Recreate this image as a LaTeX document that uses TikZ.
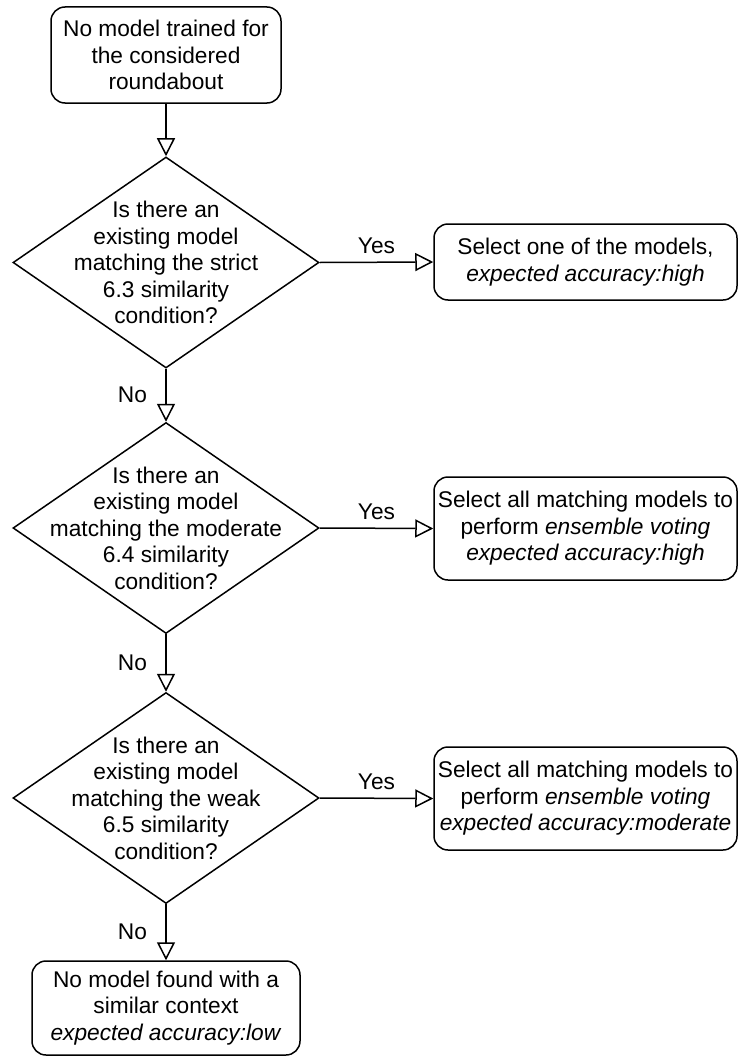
\documentclass[tikz,border=0pt]{standalone}
\usepackage{fontspec}
\setmainfont{Liberation Sans}
\usetikzlibrary{arrows.meta,shapes.geometric}
\definecolor{inkline}{RGB}{0,0,0}

\begin{document}
\begin{tikzpicture}[x=1pt,y=-1pt,
  font=\fontsize{22.7}{26.5}\selectfont,
  box/.style={draw=inkline,line width=1.5pt,rounded corners=14pt,align=center,inner sep=0pt},
  query/.style={draw=inkline,line width=1.5pt,diamond,shape aspect=1.45,align=center,
    inner sep=-30pt,minimum width=306pt,minimum height=211pt},
  flow/.style={draw=inkline,line width=1.5pt,-{Triangle[open,length=18pt,width=18pt]}}]
\useasboundingbox (0,0) rectangle (739,1057);
% left column
\node[box,minimum width=230pt,minimum height=96pt] (start) at (166,55)
  {No model trained for\\the considered\\roundabout};
\node[query] (q1) at (166,262.5)
  {Is there an\\existing model\\matching the strict\\6.3 similarity\\condition?};
\node[query] (q2) at (166,528)
  {Is there an\\existing model\\matching the moderate\\6.4 similarity\\condition?};
\node[query] (q3) at (166,798)
  {Is there an\\existing model\\matching the weak\\6.5 similarity\\condition?};
\node[box,minimum width=268pt,minimum height=94pt] (none) at (166,1008)
  {No model found with a\\similar context\\\textit{expected accuracy:low}};
% right column
\node[box,minimum width=303pt,minimum height=76pt] (r1) at (585.5,262)
  {Select one of the models,\\\textit{expected accuracy:high}};
\node[box,minimum width=303pt,minimum height=103pt] (r2) at (585.5,528.5)
  {Select all matching models to\\perform \textit{ensemble voting}\\\textit{expected accuracy:high}};
\node[box,minimum width=303pt,minimum height=103pt] (r3) at (585.5,798.5)
  {Select all matching models to\\perform \textit{ensemble voting}\\\textit{expected accuracy:moderate}};
% connectors
\draw[flow] (start) -- (q1);
\foreach \q/\r in {q1/r1,q2/r2,q3/r3}
  \draw[flow] (\q.east) -- node[above=4.5pt] {Yes} (\r.west);
\foreach \a/\b in {q1/q2,q2/q3,q3/none}
  \draw[flow] (\a.south) -- node[left=15pt] {No} (\b.north);
\end{tikzpicture}
\end{document}
